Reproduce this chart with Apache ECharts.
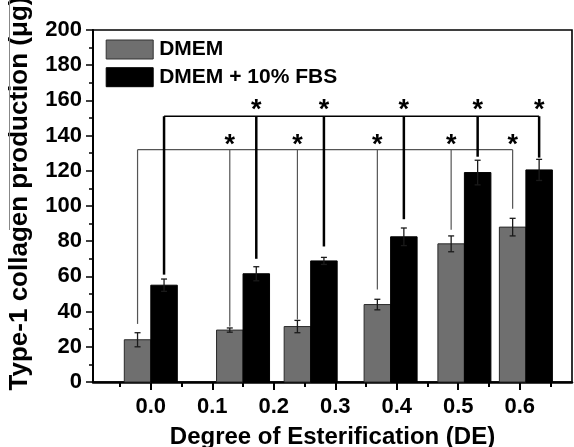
<!DOCTYPE html>
<html><head><meta charset="utf-8">
<script src="https://cdn.jsdelivr.net/npm/echarts@6/dist/echarts.min.js"></script>
<style>html,body{margin:0;padding:0;background:#fff}#c{width:574px;height:447px}</style>
</head><body><div id="c"></div>
<script>
// ---- data ----
const seriesNames = ['DMEM', 'DMEM + 10% FBS'];
const deValues = [0.0, 0.15, 0.26, 0.39, 0.51, 0.61];      // group centres on the DE axis
const dmem = [24, 29.5, 31.5, 44, 78.5, 88];
const dmemErr = [4, 1.2, 3.5, 3, 4.5, 5];
const fbs = [55, 61.5, 68.8, 82.5, 119, 120.5];
const fbsErr = [3.5, 4, 2, 5, 7, 6];
const dmemBracketLevel = 132;
const fbsBracketLevel = 151;
const dmemDropEnds = [33, 31.5, 35.5, 52.5, 86.5, 98.5];
const fbsDropEnds = [61, 70, 77, 92.5, 128, 127.5];
const xTickValues = [0, 0.1, 0.2, 0.3, 0.4, 0.5, 0.6];
const xTickLabels = ['0.0', '0.1', '0.2', '0.3', '0.4', '0.5', '0.6'];
const xMinorTickValues = [-0.05, 0.05, 0.15, 0.25, 0.35, 0.45, 0.55, 0.65];
const yTickStep = 20;

// ---- styling ----
const FONT = 'Liberation Sans, Arial, sans-serif';
const BAR_W = 26.5;
const GRAY = '#6f6f6f';

function makeRender(errs, drops, level, side, cfg) {
  return function (params, api) {
    const i = params.dataIndex;
    const x = api.value(0), v = api.value(1);
    const base = api.coord([x, 0]);
    const top = api.coord([x, v]);
    const left = side < 0 ? base[0] - BAR_W : base[0];
    const cx = left + BAR_W / 2;
    const ch = [];
    ch.push({type: 'rect', shape: {x: left, y: top[1], width: BAR_W, height: base[1] - top[1]},
      style: {fill: cfg.fill, stroke: cfg.stroke, lineWidth: 1}});
    const eTop = api.coord([x, v + errs[i]])[1];
    const eBot = api.coord([x, v - errs[i]])[1];
    const es = {stroke: '#1a1a1a', lineWidth: 1.3};
    ch.push({type: 'line', shape: {x1: cx, y1: eTop, x2: cx, y2: eBot}, style: es});
    ch.push({type: 'line', shape: {x1: cx - 3, y1: eTop, x2: cx + 3, y2: eTop}, style: es});
    ch.push({type: 'line', shape: {x1: cx - 3, y1: eBot, x2: cx + 3, y2: eBot}, style: es});
    const ly = api.coord([x, level])[1];
    const dy = api.coord([x, drops[i]])[1];
    ch.push({type: 'line', shape: {x1: cx, y1: ly, x2: cx, y2: dy},
      style: {stroke: cfg.bracket, lineWidth: cfg.dropW}});
    if (i === 0) {
      const last = deValues.length - 1;
      const lb = api.coord([deValues[last], 0])[0];
      const lx = (side < 0 ? lb - BAR_W : lb) + BAR_W / 2;
      ch.push({type: 'line', shape: {x1: cx, y1: ly, x2: lx, y2: ly},
        style: {stroke: cfg.bracket, lineWidth: cfg.hW}});
    } else {
      ch.push({type: 'text', x: cx, y: ly - cfg.starLift,
        style: {text: '*', fill: '#000', font: 'bold 27px ' + FONT, align: 'center', verticalAlign: 'middle'}});
    }
    return {type: 'group', children: ch};
  };
}

const chart = echarts.init(document.getElementById('c'), null, {renderer: 'canvas'});
chart.setOption({
  animation: false,
  backgroundColor: '#fff',
  grid: {left: 93, right: 2, top: 30, bottom: 65, show: true, borderColor: '#000', borderWidth: 1.6,
    containLabel: false, outerBoundsMode: 'none'},
  legend: {
    orient: 'vertical', left: 105.7, top: 39, padding: 0, itemWidth: 47, itemHeight: 19, itemGap: 6.7, icon: 'rect',
    textStyle: {fontFamily: FONT, fontWeight: 'bold', fontSize: 21, lineHeight: 21, color: '#000', padding: [0, 0, 0, 1]},
    data: [
      {name: seriesNames[0], itemStyle: {color: GRAY, borderColor: '#333', borderWidth: 1}},
      {name: seriesNames[1], itemStyle: {color: '#000', borderColor: '#000', borderWidth: 1}}
    ]
  },
  xAxis: [{
    type: 'value', min: -0.094, max: 0.685, position: 'bottom',
    axisLine: {show: true, onZero: false, lineStyle: {color: '#000', width: 2.5}},
    axisTick: {show: true, inside: false, length: 8, customValues: xTickValues, lineStyle: {color: '#000', width: 2}},
    axisLabel: {show: true, margin: 14, customValues: xTickValues, color: '#000',
      fontFamily: FONT, fontWeight: 'bold', fontSize: 22,
      formatter: function (val) {
        for (let j = 0; j < xTickValues.length; j++) if (Math.abs(xTickValues[j] - val) < 1e-9) return xTickLabels[j];
        return '';
      }},
    splitLine: {show: false},
    name: 'Degree of Esterification (DE)', nameLocation: 'middle', nameGap: 43,
    nameTextStyle: {fontFamily: FONT, fontWeight: 'bold', fontSize: 24, color: '#000'}
  }, {
    type: 'value', min: -0.094, max: 0.685, position: 'bottom',
    axisLine: {show: false, onZero: false},
    axisTick: {show: true, inside: false, length: 5, customValues: xMinorTickValues, lineStyle: {color: '#000', width: 2}},
    axisLabel: {show: false},
    splitLine: {show: false}
  }],
  yAxis: {
    type: 'value', min: 0, max: 200, interval: yTickStep,
    axisLine: {show: true, onZero: false, lineStyle: {color: '#000', width: 2}},
    axisTick: {show: true, inside: false, length: 7, lineStyle: {color: '#000', width: 1.5}},
    minorTick: {show: true, splitNumber: 2, length: 4, lineStyle: {color: '#000', width: 1.5}},
    axisLabel: {margin: 11, color: '#000', fontFamily: FONT, fontWeight: 'bold', fontSize: 22},
    splitLine: {show: false},
    name: 'Type-1 collagen production (\u03bcg)', nameLocation: 'middle', nameGap: 60,
    nameTextStyle: {fontFamily: FONT, fontWeight: 'bold', fontSize: 26, color: '#000', padding: [0, 0, 0, 25]}
  },
  graphic: [{type: 'line', shape: {x1: 9.5, y1: 0, x2: 9.5, y2: 230}, style: {stroke: '#888', lineWidth: 1}, z: 100}],
  series: [{
    name: seriesNames[0], type: 'custom', xAxisIndex: 0,
    itemStyle: {color: GRAY, borderColor: '#333', borderWidth: 1},
    encode: {x: 0, y: 1},
    data: deValues.map((d, i) => [d, dmem[i]]),
    renderItem: makeRender(dmemErr, dmemDropEnds, dmemBracketLevel, -1,
      {fill: GRAY, stroke: '#2a2a2a', bracket: '#555', dropW: 1.2, hW: 1.3, starLift: 4})
  }, {
    name: seriesNames[1], type: 'custom', xAxisIndex: 0,
    itemStyle: {color: '#000'},
    encode: {x: 0, y: 1},
    data: deValues.map((d, i) => [d, fbs[i]]),
    renderItem: makeRender(fbsErr, fbsDropEnds, fbsBracketLevel, 1,
      {fill: '#000', stroke: '#000', bracket: '#000', dropW: 2.5, hW: 1.5, starLift: 5.7})
  }]
});
</script></body></html>
